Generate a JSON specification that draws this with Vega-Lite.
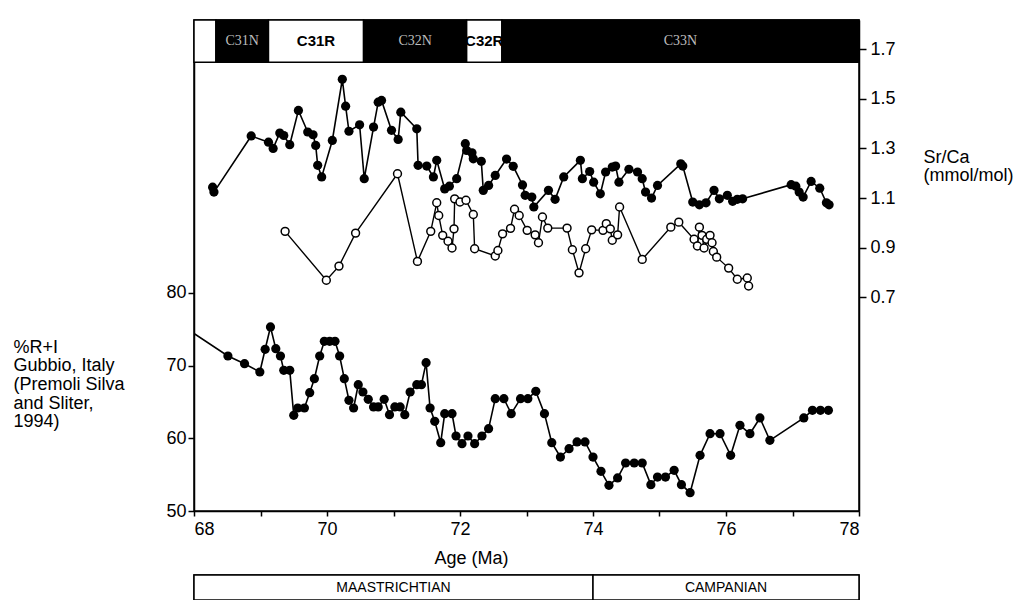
{
  "$schema": "https://vega.github.io/schema/vega-lite/v6.json",
  "background": "white",
  "padding": {"left": 12, "top": 18, "right": 0, "bottom": 0},
  "datasets": {
    "chrons": [
      {"chron": "", "pol": "R", "start": 68.0, "end": 68.33},
      {"chron": "C31N", "pol": "N", "start": 68.33, "end": 69.12},
      {"chron": "C31R", "pol": "R", "start": 69.12, "end": 70.55},
      {"chron": "C32N", "pol": "N", "start": 70.55, "end": 72.10},
      {"chron": "C32R", "pol": "R", "start": 72.10, "end": 72.63},
      {"chron": "C33N", "pol": "N", "start": 72.63, "end": 78.0}
    ],
    "stages": [
      {"stage": "MAASTRICHTIAN", "start": 68.0, "end": 74.0},
      {"stage": "CAMPANIAN", "start": 74.0, "end": 78.0}
    ],
    "ri": [
      {"age": 67.8, "pct": 75.6}, {"age": 68.51, "pct": 71.31}, {"age": 68.76, "pct": 70.25}, {"age": 68.99, "pct": 69.11},
      {"age": 69.07, "pct": 72.23}, {"age": 69.15, "pct": 75.30}, {"age": 69.23, "pct": 72.31}, {"age": 69.30, "pct": 71.31},
      {"age": 69.35, "pct": 69.34}, {"age": 69.44, "pct": 69.34}, {"age": 69.50, "pct": 63.16}, {"age": 69.56, "pct": 64.16},
      {"age": 69.66, "pct": 64.16}, {"age": 69.74, "pct": 66.27}, {"age": 69.81, "pct": 68.19}, {"age": 69.89, "pct": 71.31},
      {"age": 69.96, "pct": 73.33}, {"age": 70.04, "pct": 73.33}, {"age": 70.12, "pct": 73.33}, {"age": 70.19, "pct": 71.31},
      {"age": 70.26, "pct": 68.19}, {"age": 70.33, "pct": 65.22}, {"age": 70.40, "pct": 64.16}, {"age": 70.47, "pct": 67.36},
      {"age": 70.54, "pct": 66.36}, {"age": 70.62, "pct": 65.36}, {"age": 70.70, "pct": 64.30}, {"age": 70.77, "pct": 64.30},
      {"age": 70.86, "pct": 65.36}, {"age": 70.94, "pct": 63.24}, {"age": 71.02, "pct": 64.30}, {"age": 71.10, "pct": 64.30},
      {"age": 71.17, "pct": 63.24}, {"age": 71.25, "pct": 66.36}, {"age": 71.35, "pct": 67.36}, {"age": 71.42, "pct": 67.36},
      {"age": 71.49, "pct": 70.39}, {"age": 71.55, "pct": 64.16}, {"age": 71.62, "pct": 62.33}, {"age": 71.71, "pct": 59.39},
      {"age": 71.77, "pct": 63.38}, {"age": 71.88, "pct": 63.38}, {"age": 71.94, "pct": 60.31}, {"age": 72.03, "pct": 59.25},
      {"age": 72.12, "pct": 60.31}, {"age": 72.22, "pct": 59.25}, {"age": 72.33, "pct": 60.31}, {"age": 72.43, "pct": 61.32},
      {"age": 72.53, "pct": 65.44}, {"age": 72.66, "pct": 65.44}, {"age": 72.77, "pct": 63.38}, {"age": 72.91, "pct": 65.44},
      {"age": 73.02, "pct": 65.44}, {"age": 73.14, "pct": 66.45}, {"age": 73.27, "pct": 63.38}, {"age": 73.38, "pct": 59.39},
      {"age": 73.51, "pct": 57.42}, {"age": 73.64, "pct": 58.56}, {"age": 73.76, "pct": 59.49}, {"age": 73.88, "pct": 59.49},
      {"age": 74.00, "pct": 57.42}, {"age": 74.12, "pct": 55.45}, {"age": 74.24, "pct": 53.53}, {"age": 74.37, "pct": 54.54},
      {"age": 74.49, "pct": 56.60}, {"age": 74.62, "pct": 56.60}, {"age": 74.74, "pct": 56.60}, {"age": 74.87, "pct": 53.62},
      {"age": 74.97, "pct": 54.67}, {"age": 75.09, "pct": 54.67}, {"age": 75.22, "pct": 55.59}, {"age": 75.33, "pct": 53.62},
      {"age": 75.46, "pct": 52.52}, {"age": 75.61, "pct": 57.65}, {"age": 75.76, "pct": 60.63}, {"age": 75.91, "pct": 60.63},
      {"age": 76.07, "pct": 57.65}, {"age": 76.21, "pct": 61.78}, {"age": 76.36, "pct": 60.63}, {"age": 76.51, "pct": 62.79},
      {"age": 76.66, "pct": 59.72}, {"age": 77.17, "pct": 62.79}, {"age": 77.30, "pct": 63.84}, {"age": 77.42, "pct": 63.84},
      {"age": 77.54, "pct": 63.84}
    ],
    "srA": [
      {"age": 68.28, "srca": 1.144}, {"age": 68.30, "srca": 1.124}, {"age": 68.86, "srca": 1.350}, {"age": 69.12, "srca": 1.325},
      {"age": 69.19, "srca": 1.300}, {"age": 69.29, "srca": 1.362}, {"age": 69.35, "srca": 1.352}, {"age": 69.44, "srca": 1.315},
      {"age": 69.57, "srca": 1.453}, {"age": 69.71, "srca": 1.366}, {"age": 69.79, "srca": 1.355}, {"age": 69.83, "srca": 1.312},
      {"age": 69.86, "srca": 1.232}, {"age": 69.92, "srca": 1.185}, {"age": 70.08, "srca": 1.332}, {"age": 70.23, "srca": 1.578},
      {"age": 70.28, "srca": 1.470}, {"age": 70.33, "srca": 1.369}, {"age": 70.49, "srca": 1.395}, {"age": 70.56, "srca": 1.178},
      {"age": 70.70, "srca": 1.386}, {"age": 70.77, "srca": 1.486}, {"age": 70.82, "srca": 1.493}, {"age": 70.97, "srca": 1.373},
      {"age": 71.07, "srca": 1.336}, {"age": 71.11, "srca": 1.446}, {"age": 71.35, "srca": 1.379}, {"age": 71.37, "srca": 1.232},
      {"age": 71.50, "srca": 1.229}, {"age": 71.60, "srca": 1.185}, {"age": 71.65, "srca": 1.252}, {"age": 71.77, "srca": 1.137},
      {"age": 71.84, "srca": 1.148}, {"age": 71.95, "srca": 1.178}, {"age": 72.08, "srca": 1.319}, {"age": 72.10, "srca": 1.292},
      {"age": 72.18, "srca": 1.282}, {"age": 72.20, "srca": 1.258}, {"age": 72.32, "srca": 1.248}, {"age": 72.35, "srca": 1.131},
      {"age": 72.43, "srca": 1.151}, {"age": 72.53, "srca": 1.191}, {"age": 72.70, "srca": 1.257}, {"age": 72.80, "srca": 1.228},
      {"age": 72.94, "srca": 1.153}, {"age": 72.98, "srca": 1.111}, {"age": 73.08, "srca": 1.104}, {"age": 73.11, "srca": 1.064},
      {"age": 73.33, "srca": 1.131}, {"age": 73.43, "srca": 1.095}, {"age": 73.56, "srca": 1.185}, {"age": 73.81, "srca": 1.252},
      {"age": 73.84, "srca": 1.178}, {"age": 73.95, "srca": 1.207}, {"age": 74.01, "srca": 1.164}, {"age": 74.11, "srca": 1.117},
      {"age": 74.19, "srca": 1.205}, {"age": 74.29, "srca": 1.225}, {"age": 74.34, "srca": 1.229}, {"age": 74.39, "srca": 1.164},
      {"age": 74.54, "srca": 1.216}, {"age": 74.67, "srca": 1.205}, {"age": 74.74, "srca": 1.178}, {"age": 74.79, "srca": 1.124},
      {"age": 74.88, "srca": 1.100}, {"age": 74.97, "srca": 1.151}, {"age": 75.32, "srca": 1.238}, {"age": 75.35, "srca": 1.229},
      {"age": 75.50, "srca": 1.084}, {"age": 75.60, "srca": 1.073}, {"age": 75.70, "srca": 1.081}, {"age": 75.82, "srca": 1.131},
      {"age": 75.90, "srca": 1.097}, {"age": 76.02, "srca": 1.111}, {"age": 76.10, "srca": 1.087}, {"age": 76.17, "srca": 1.095},
      {"age": 76.25, "srca": 1.097}, {"age": 76.98, "srca": 1.154}, {"age": 77.05, "srca": 1.148}, {"age": 77.10, "srca": 1.124},
      {"age": 77.16, "srca": 1.104}, {"age": 77.28, "srca": 1.167}, {"age": 77.41, "srca": 1.140}, {"age": 77.51, "srca": 1.081},
      {"age": 77.55, "srca": 1.073}
    ],
    "srB": [
      {"age": 69.37, "srca": 0.966}, {"age": 69.99, "srca": 0.769}, {"age": 70.18, "srca": 0.826}, {"age": 70.43, "srca": 0.959},
      {"age": 71.06, "srca": 1.198}, {"age": 71.36, "srca": 0.845}, {"age": 71.56, "srca": 0.966}, {"age": 71.65, "srca": 1.081},
      {"age": 71.68, "srca": 1.030}, {"age": 71.74, "srca": 0.950}, {"age": 71.82, "srca": 0.926}, {"age": 71.88, "srca": 0.899},
      {"age": 71.91, "srca": 0.976}, {"age": 71.92, "srca": 1.097}, {"age": 72.00, "srca": 1.084}, {"age": 72.09, "srca": 1.091},
      {"age": 72.20, "srca": 1.034}, {"age": 72.22, "srca": 0.896}, {"age": 72.53, "srca": 0.867}, {"age": 72.57, "srca": 0.889},
      {"age": 72.64, "srca": 0.956}, {"age": 72.76, "srca": 0.978}, {"age": 72.82, "srca": 1.055}, {"age": 72.89, "srca": 1.030},
      {"age": 73.01, "srca": 0.970}, {"age": 73.13, "srca": 0.952}, {"age": 73.18, "srca": 0.920}, {"age": 73.24, "srca": 1.024},
      {"age": 73.32, "srca": 0.979}, {"age": 73.61, "srca": 0.979}, {"age": 73.69, "srca": 0.892}, {"age": 73.79, "srca": 0.799},
      {"age": 73.89, "srca": 0.896}, {"age": 73.98, "srca": 0.972}, {"age": 74.15, "srca": 0.970}, {"age": 74.20, "srca": 0.997},
      {"age": 74.26, "srca": 0.976}, {"age": 74.29, "srca": 0.930}, {"age": 74.37, "srca": 0.952}, {"age": 74.40, "srca": 1.064},
      {"age": 74.74, "srca": 0.853}, {"age": 75.17, "srca": 0.983}, {"age": 75.29, "srca": 1.003}, {"age": 75.52, "srca": 0.934},
      {"age": 75.57, "srca": 0.907}, {"age": 75.60, "srca": 0.983}, {"age": 75.64, "srca": 0.950}, {"age": 75.67, "srca": 0.899},
      {"age": 75.71, "srca": 0.934}, {"age": 75.76, "srca": 0.950}, {"age": 75.79, "srca": 0.920}, {"age": 75.81, "srca": 0.885},
      {"age": 75.86, "srca": 0.862}, {"age": 76.04, "srca": 0.818}, {"age": 76.17, "srca": 0.773}, {"age": 76.32, "srca": 0.778},
      {"age": 76.34, "srca": 0.746}
    ]
  },
  "vconcat": [
    {
      "width": 665,
      "height": 491,
      "layer": [
        {
          "layer": [
            {
              "data": {"name": "chrons"},
              "mark": {"type": "rect", "stroke": "black", "strokeWidth": 1.5},
              "encoding": {
                "x": {
                  "field": "start", "type": "quantitative",
                  "scale": {"domain": [68, 78], "nice": false},
                  "axis": {
                    "orient": "bottom",
                    "values": [68, 69, 70, 71, 72, 73, 74, 75, 76, 77, 78],
                    "labelExpr": "datum.value % 2 === 0 ? datum.label : ''",
                    "labelOverlap": false,
                    "title": "Age (Ma)",
                    "titleX": 277, "titleY": 38, "titleBaseline": "top", "titleAlign": "center",
                    "tickSize": 5, "labelPadding": 4
                  }
                },
                "x2": {"field": "end"},
                "y": {
                  "datum": 111.7, "type": "quantitative",
                  "scale": {"domain": [50, 117.5], "nice": false, "zero": false},
                  "axis": {
                    "orient": "left",
                    "values": [50, 60, 70, 80],
                    "title": ["%R+I", "Gubbio, Italy", "(Premoli Silva", "and Sliter,", "1994)"],
                    "titleAngle": 0, "titleAlign": "left", "titleBaseline": "top",
                    "titleX": -181, "titleY": 318, "titleLineHeight": 18.7,
                    "tickSize": 6, "labelPadding": 2
                  }
                },
                "y2": {"datum": 117.5},
                "fill": {"field": "pol", "type": "nominal", "scale": {"domain": ["N", "R"], "range": ["black", "white"]}, "legend": null}
              }
            },
            {
              "data": {"name": "chrons"},
              "transform": [
                {"filter": "datum.pol === 'R' && datum.chron !== ''"},
                {"calculate": "(datum.start + datum.end) / 2", "as": "mid"}
              ],
              "mark": {"type": "text", "font": "Liberation Sans", "fontSize": 15, "fontWeight": "bold", "color": "black", "baseline": "middle"},
              "encoding": {
                "x": {
                  "field": "mid", "type": "quantitative",
                  "scale": {"domain": [68, 78], "nice": false},
                  "axis": {
                    "orient": "bottom",
                    "values": [68, 69, 70, 71, 72, 73, 74, 75, 76, 77, 78],
                    "labelExpr": "datum.value % 2 === 0 ? datum.label : ''",
                    "labelOverlap": false,
                    "title": "Age (Ma)",
                    "titleX": 277, "titleY": 38, "titleBaseline": "top", "titleAlign": "center",
                    "tickSize": 5, "labelPadding": 4
                  }
                },
                "y": {
                  "datum": 114.6, "type": "quantitative",
                  "scale": {"domain": [50, 117.5], "nice": false, "zero": false},
                  "axis": {
                    "orient": "left",
                    "values": [50, 60, 70, 80],
                    "title": ["%R+I", "Gubbio, Italy", "(Premoli Silva", "and Sliter,", "1994)"],
                    "titleAngle": 0, "titleAlign": "left", "titleBaseline": "top",
                    "titleX": -181, "titleY": 318, "titleLineHeight": 18.7,
                    "tickSize": 6, "labelPadding": 2
                  }
                },
                "text": {"field": "chron"}
              }
            },
            {
              "data": {"name": "chrons"},
              "transform": [
                {"filter": "datum.pol === 'N'"},
                {"calculate": "(datum.start + datum.end) / 2", "as": "mid"}
              ],
              "mark": {"type": "text", "font": "Liberation Serif", "fontSize": 14, "color": "#bdbdbd", "baseline": "middle"},
              "encoding": {
                "x": {
                  "field": "mid", "type": "quantitative",
                  "scale": {"domain": [68, 78], "nice": false},
                  "axis": {
                    "orient": "bottom",
                    "values": [68, 69, 70, 71, 72, 73, 74, 75, 76, 77, 78],
                    "labelExpr": "datum.value % 2 === 0 ? datum.label : ''",
                    "labelOverlap": false,
                    "title": "Age (Ma)",
                    "titleX": 277, "titleY": 38, "titleBaseline": "top", "titleAlign": "center",
                    "tickSize": 5, "labelPadding": 4
                  }
                },
                "y": {
                  "datum": 114.6, "type": "quantitative",
                  "scale": {"domain": [50, 117.5], "nice": false, "zero": false},
                  "axis": {
                    "orient": "left",
                    "values": [50, 60, 70, 80],
                    "title": ["%R+I", "Gubbio, Italy", "(Premoli Silva", "and Sliter,", "1994)"],
                    "titleAngle": 0, "titleAlign": "left", "titleBaseline": "top",
                    "titleX": -181, "titleY": 318, "titleLineHeight": 18.7,
                    "tickSize": 6, "labelPadding": 2
                  }
                },
                "text": {"field": "chron"}
              }
            },
            {
              "data": {"name": "ri"},
              "mark": {"type": "line", "color": "black", "strokeWidth": 1.6, "clip": true,
                       "point": {"filled": true, "size": 85, "color": "black"}},
              "encoding": {
                "x": {
                  "field": "age", "type": "quantitative",
                  "scale": {"domain": [68, 78], "nice": false},
                  "axis": {
                    "orient": "bottom",
                    "values": [68, 69, 70, 71, 72, 73, 74, 75, 76, 77, 78],
                    "labelExpr": "datum.value % 2 === 0 ? datum.label : ''",
                    "labelOverlap": false,
                    "title": "Age (Ma)",
                    "titleX": 277, "titleY": 38, "titleBaseline": "top", "titleAlign": "center",
                    "tickSize": 5, "labelPadding": 4
                  }
                },
                "y": {
                  "field": "pct", "type": "quantitative",
                  "scale": {"domain": [50, 117.5], "nice": false, "zero": false},
                  "axis": {
                    "orient": "left",
                    "values": [50, 60, 70, 80],
                    "title": ["%R+I", "Gubbio, Italy", "(Premoli Silva", "and Sliter,", "1994)"],
                    "titleAngle": 0, "titleAlign": "left", "titleBaseline": "top",
                    "titleX": -181, "titleY": 318, "titleLineHeight": 18.7,
                    "tickSize": 6, "labelPadding": 2
                  }
                }
              }
            }
          ]
        },
        {
          "layer": [
            {
              "data": {"name": "srA"},
              "mark": {"type": "line", "color": "black", "strokeWidth": 1.6,
                       "point": {"filled": true, "size": 85, "color": "black"}},
              "encoding": {
                "x": {
                  "field": "age", "type": "quantitative",
                  "scale": {"domain": [68, 78], "nice": false},
                  "axis": {
                    "orient": "bottom",
                    "values": [68, 69, 70, 71, 72, 73, 74, 75, 76, 77, 78],
                    "labelExpr": "datum.value % 2 === 0 ? datum.label : ''",
                    "labelOverlap": false,
                    "title": "Age (Ma)",
                    "titleX": 277, "titleY": 38, "titleBaseline": "top", "titleAlign": "center",
                    "tickSize": 5, "labelPadding": 4
                  }
                },
                "y": {
                  "field": "srca", "type": "quantitative",
                  "scale": {"domain": [-0.16, 1.817], "nice": false, "zero": false},
                  "axis": {
                    "orient": "right",
                    "values": [0.7, 0.9, 1.1, 1.3, 1.5, 1.7],
                    "format": ".1f",
                    "title": ["Sr/Ca", "(mmol/mol)"],
                    "titleAngle": 0, "titleAlign": "left", "titleBaseline": "top",
                    "titleX": 64, "titleY": 128, "titleLineHeight": 18,
                    "tickSize": 7, "labelPadding": 4
                  }
                }
              }
            },
            {
              "data": {"name": "srB"},
              "mark": {"type": "line", "color": "black", "strokeWidth": 1.4,
                       "point": {"filled": false, "fill": "white", "stroke": "black", "strokeWidth": 1.5, "size": 62}},
              "encoding": {
                "x": {
                  "field": "age", "type": "quantitative",
                  "scale": {"domain": [68, 78], "nice": false},
                  "axis": {
                    "orient": "bottom",
                    "values": [68, 69, 70, 71, 72, 73, 74, 75, 76, 77, 78],
                    "labelExpr": "datum.value % 2 === 0 ? datum.label : ''",
                    "labelOverlap": false,
                    "title": "Age (Ma)",
                    "titleX": 277, "titleY": 38, "titleBaseline": "top", "titleAlign": "center",
                    "tickSize": 5, "labelPadding": 4
                  }
                },
                "y": {
                  "field": "srca", "type": "quantitative",
                  "scale": {"domain": [-0.16, 1.817], "nice": false, "zero": false},
                  "axis": {
                    "orient": "right",
                    "values": [0.7, 0.9, 1.1, 1.3, 1.5, 1.7],
                    "format": ".1f",
                    "title": ["Sr/Ca", "(mmol/mol)"],
                    "titleAngle": 0, "titleAlign": "left", "titleBaseline": "top",
                    "titleX": 64, "titleY": 128, "titleLineHeight": 18,
                    "tickSize": 7, "labelPadding": 4
                  }
                }
              }
            }
          ]
        }
      ],
      "resolve": {"scale": {"y": "independent"}}
    },
    {
      "width": 665,
      "height": 25,
      "data": {"name": "stages"},
      "transform": [{"calculate": "(datum.start + datum.end) / 2", "as": "mid"}],
      "layer": [
        {
          "mark": {"type": "rect", "fill": "white", "stroke": "black", "strokeWidth": 1.5},
          "encoding": {
            "x": {"field": "start", "type": "quantitative", "scale": {"domain": [68, 78], "nice": false}, "axis": null},
            "x2": {"field": "end"}
          }
        },
        {
          "mark": {"type": "text", "font": "Liberation Sans", "fontSize": 14, "color": "black", "baseline": "middle"},
          "encoding": {
            "x": {"field": "mid", "type": "quantitative", "scale": {"domain": [68, 78], "nice": false}, "axis": null},
            "text": {"field": "stage"}
          }
        }
      ]
    }
  ],
  "spacing": 64,
  "bounds": "flush",
  "resolve": {"scale": {"x": "independent"}},
  "config": {
    "font": "Liberation Sans",
    "view": {"stroke": "black", "strokeWidth": 1.5},
    "axis": {
      "grid": false,
      "domainColor": "black", "domainWidth": 1.5,
      "tickColor": "black", "tickWidth": 1.5,
      "labelColor": "black", "labelFont": "Liberation Sans", "labelFontSize": 18,
      "titleColor": "black", "titleFont": "Liberation Sans", "titleFontSize": 18, "titleFontWeight": "normal"
    }
  }
}
